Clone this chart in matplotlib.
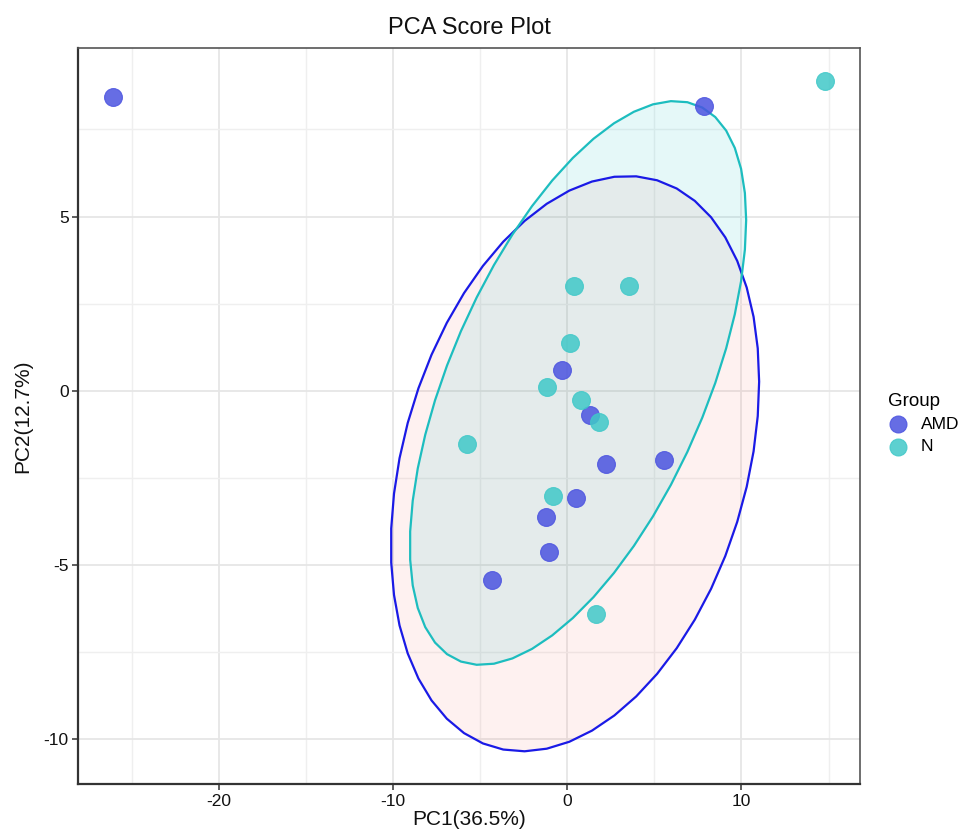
"""PCA score plot with robust (t) confidence ellipses per group."""

import numpy as np
import matplotlib
matplotlib.use("Agg")
import matplotlib.pyplot as plt
from matplotlib.patches import Polygon
from matplotlib.ticker import MultipleLocator

plt.rcParams["font.family"] = ["Liberation Sans", "DejaVu Sans"]
plt.rcParams["axes.unicode_minus"] = False

# scores
amd_pc1 = [-26.07, 7.83, -0.30, 1.32, 2.20, 5.53, 0.50, -1.22, -1.05, -4.31]
amd_pc2 = [8.44, 8.18, 0.60, -0.69, -2.09, -1.99, -3.08, -3.62, -4.63, -5.44]
n_pc1 = [14.79, 0.37, 3.54, 0.14, -1.17, 0.79, 1.84, -5.74, -0.84, 1.66]
n_pc2 = [8.90, 3.00, 3.00, 1.38, 0.12, -0.26, -0.89, -1.52, -3.03, -6.41]

groups = ["AMD", "N"]
point_colors = {"AMD": "#4B53E0", "N": "#40C8C8"}
edge_colors = {"AMD": "#1A1AE6", "N": "#1DBDBF"}
fill_colors = {"AMD": "#F8766D", "N": "#00BFC4"}

# F quantile qf(0.95, 2, 9) -- n = 10 per group
F_95_2_9 = 4.256495


def cov_trob(x, nu=5, maxit=25, tol=0.01):
    """Port of MASS::cov.trob (multivariate t, unit weights)."""
    n, p = x.shape
    wt = np.ones(n)
    loc = x.mean(axis=0)
    w = np.sqrt(wt)
    for _ in range(maxit):
        w0 = w
        X = x - loc
        _, d, vt = np.linalg.svd(np.sqrt(w / w.sum())[:, None] * X, full_matrices=False)
        wX = X @ vt.T @ np.diag(1 / d)
        Q = (wX ** 2).sum(axis=1)
        w = wt * (nu + p) / (nu + Q)
        loc = (w[:, None] * x).sum(axis=0) / w.sum()
        if np.all(np.abs(w - w0) < tol):
            break
    cov = (np.sqrt(w)[:, None] * X).T @ (np.sqrt(w)[:, None] * X) / wt.sum()
    return cov, loc


def ellipse_path(x, y, segments=51):
    data = np.column_stack([x, y])
    shape, center = cov_trob(data)
    R = np.linalg.cholesky(shape).T
    radius = np.sqrt(2 * F_95_2_9)
    ang = np.arange(segments + 1) * 2 * np.pi / segments
    circle = np.column_stack([np.cos(ang), np.sin(ang)])
    return center + radius * circle @ R


fig = plt.figure(figsize=(9.64, 8.34), dpi=100)
ax = fig.add_axes([0.0813, 0.0600, 0.8108, 0.8821])

data = {"AMD": (amd_pc1, amd_pc2), "N": (n_pc1, n_pc2)}

for g in groups:
    pts = ellipse_path(*data[g])
    ax.add_patch(Polygon(pts, closed=True, facecolor=fill_colors[g], alpha=0.1,
                         edgecolor="none", zorder=2))
    ax.add_patch(Polygon(pts, closed=True, facecolor="none",
                         edgecolor=edge_colors[g], linewidth=1.6, zorder=3))

for g in groups:
    ax.scatter(data[g][0], data[g][1], s=165, color=point_colors[g], alpha=0.85,
               edgecolors=point_colors[g], linewidths=0.8, zorder=4, label=g)

ax.set_xlim(-28.05, 16.8)
ax.set_ylim(-11.28, 9.83)
ax.xaxis.set_major_locator(MultipleLocator(10))
ax.yaxis.set_major_locator(MultipleLocator(5))
ax.xaxis.set_minor_locator(MultipleLocator(5))
ax.yaxis.set_minor_locator(MultipleLocator(2.5))
ax.grid(which="major", color="#E6E6E6", linewidth=1.3, zorder=0)
ax.grid(which="minor", color="#EFEFEF", linewidth=1.0, zorder=0)
ax.set_axisbelow(True)
ax.tick_params(which="minor", length=0)
ax.tick_params(which="major", length=4, width=1.1, color="#333333",
               labelsize=12.5, labelcolor="#111111", pad=3)

for side in ["top", "right"]:
    ax.spines[side].set_color("#555555")
    ax.spines[side].set_linewidth(1.2)
for side in ["left", "bottom"]:
    ax.spines[side].set_color("#333333")
    ax.spines[side].set_linewidth(1.6)

ax.set_title("PCA Score Plot", fontsize=17, color="#111111", pad=10)
ax.set_xlabel("PC1(36.5%)", fontsize=15, color="#111111", labelpad=1)
ax.set_ylabel("PC2(12.7%)", fontsize=15, color="#111111", labelpad=8)

leg = ax.legend(title="Group", loc="center left", bbox_to_anchor=(1.02, 0.49),
                frameon=False, fontsize=12.5, title_fontsize=13.5, alignment="left",
                handlelength=1.2, handletextpad=0.72, labelspacing=0.4,
                borderpad=0.2, markerscale=0.95)

fig.savefig("out.png", dpi=100)
